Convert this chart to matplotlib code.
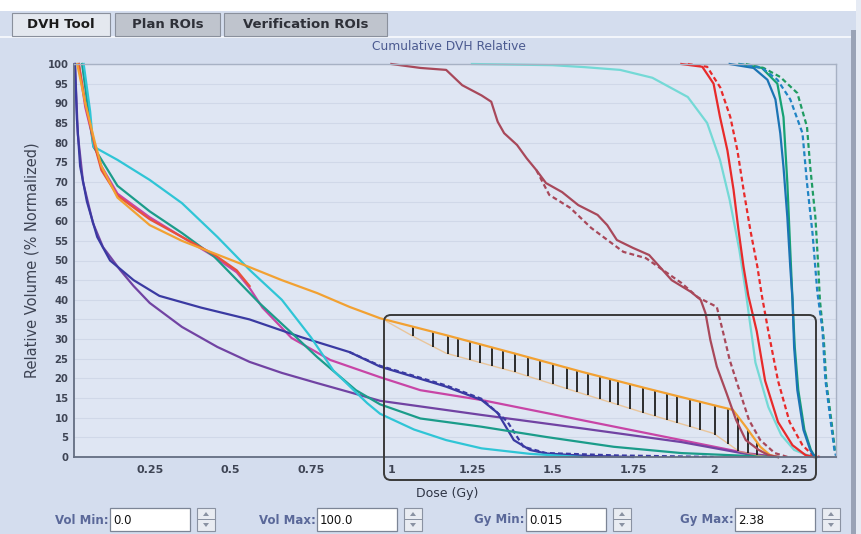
import numpy as np
import matplotlib
matplotlib.use("Agg")
import matplotlib.pyplot as plt
from matplotlib.patches import Rectangle, FancyBboxPatch, Polygon
from matplotlib.transforms import Affine2D

# ---- DVH curves (dose in Gy, volume in %) ----
orange_gy = [0.025, 0.05, 0.08, 0.10, 0.15, 0.25, 0.35, 0.46, 0.56, 0.66, 0.77, 0.87, 0.965,
             1.17, 1.38, 1.59, 1.79, 2.0, 2.06, 2.10, 2.145, 2.175, 2.2]
orange_vol = [100, 90, 80, 74, 66, 59, 55, 51.5, 48.3, 45, 41.7, 38.2, 35.3,
              31, 26.4, 21.7, 17.5, 13.2, 12, 7.7, 2.6, 0.5, 0]
# lower edge of the hatched band under the orange curve
band_gy = [0.985, 1.07, 1.17, 1.38, 1.59, 1.79, 2.0, 2.08, 2.135, 2.17]
band_vol = [34.5, 30.6, 26.4, 21.7, 16.2, 11.1, 6.0, 1.4, 0.5, 0]
hatch_gy = [1.068, 1.130, 1.176, 1.208, 1.245, 1.276, 1.313, 1.347, 1.385, 1.425,
            1.462, 1.503, 1.546, 1.577, 1.611, 1.648, 1.680, 1.704, 1.742, 1.782,
            1.819, 1.857, 1.888, 1.928, 1.959, 2.006, 2.046, 2.077, 2.108, 2.136]

red_lo_gy = [0.03, 0.05, 0.08, 0.10, 0.15, 0.25, 0.35, 0.45, 0.52, 0.56]
red_lo_vol = [100, 90, 79, 73, 66.5, 60.5, 56, 51.5, 47.5, 43.5]

magenta_gy = [0.03, 0.05, 0.08, 0.10, 0.15, 0.25, 0.35, 0.45, 0.52, 0.56, 0.60, 0.69, 0.81,
              0.965, 1.09, 1.28, 1.59, 1.9, 2.1, 2.2]
magenta_vol = [100, 89, 79, 74, 67, 61, 56, 51, 47, 43, 38, 30.3, 24.7,
               20.3, 17, 14.5, 9.4, 4.3, 1, 0]

teal_gy = [0.04, 0.06, 0.075, 0.15, 0.25, 0.35, 0.45, 0.59, 0.69, 0.77, 0.89, 0.965,
           1.09, 1.28, 1.48, 1.69, 1.9, 2.1, 2.2]
teal_vol = [100, 88, 79, 69, 62.5, 57, 51, 39.2, 31.6, 25.4, 17, 13.4,
            9.8, 7.7, 5.1, 2.6, 1, 0.3, 0]

cyan_gy = [0.045, 0.065, 0.075, 0.15, 0.25, 0.35, 0.46, 0.56, 0.66, 0.75, 0.82, 0.925,
           0.965, 1.07, 1.17, 1.28, 1.43, 1.59]
cyan_vol = [100, 88, 79, 75.6, 70.5, 64.6, 56, 47.6, 40, 30.5, 22, 13.7,
            11, 7, 4.3, 2.2, 0.8, 0]

navy_gy = [0.018, 0.024, 0.034, 0.055, 0.087, 0.127, 0.2, 0.28, 0.41, 0.56, 0.72, 0.87,
           0.965, 1.17, 1.28, 1.33, 1.38, 1.43, 1.48, 1.6, 1.75]
navy_vol = [100, 86, 74, 65, 56, 50, 45, 41, 38, 35, 30.5, 26.7,
            23, 17.9, 14.5, 11.2, 4.3, 1.8, 0.9, 0.3, 0]
navy_dash_gy = [0.87, 0.965, 1.17, 1.28, 1.36, 1.41, 1.48, 1.7, 2.0]
navy_dash_vol = [26.7, 23.2, 18.2, 14.8, 9, 2.6, 1, 0.4, 0]

purple_gy = [0.018, 0.027, 0.043, 0.074, 0.105, 0.158, 0.2, 0.25, 0.35, 0.46, 0.56, 0.66,
             0.77, 0.87, 0.965, 1.28, 1.59, 1.9, 2.1, 2.2]
purple_vol = [100, 82, 70, 59.5, 53.4, 47.6, 43.5, 39.2, 33.1, 28, 24.2, 21.4,
              18.8, 16.5, 14.3, 10.7, 7.3, 3.8, 0.8, 0]

brown_gy = [1.0, 1.09, 1.17, 1.22, 1.28, 1.31, 1.33, 1.35, 1.39, 1.42, 1.45, 1.48, 1.53,
            1.58, 1.64, 1.67, 1.70, 1.75, 1.80, 1.87, 1.93, 1.96, 1.975, 1.99, 2.01,
            2.04, 2.07, 2.10, 2.14, 2.17, 2.2]
brown_vol = [100, 99, 98.5, 94.6, 92, 90.4, 85.3, 82.4, 79.4, 76, 73, 69.7, 67.4,
             64.1, 61.6, 59, 55.2, 53.2, 51.4, 45, 42, 40, 36.6, 29.8, 23,
             16.3, 9.4, 4.3, 1.8, 0.5, 0]
brown_dash_gy = [1.45, 1.49, 1.555, 1.62, 1.72, 1.79, 1.9, 1.95, 2.01, 2.03, 2.05, 2.08,
                 2.11, 2.145, 2.19, 2.23]
brown_dash_vol = [73, 66.7, 63.4, 58.3, 52.2, 50.6, 44.3, 40.7, 38.2, 31.6, 24.7, 17,
                  9.4, 4.3, 1, 0]

pale_gy = [1.25, 1.5, 1.6, 1.71, 1.81, 1.92, 1.98, 2.02, 2.05, 2.08, 2.10, 2.13, 2.17,
           2.21, 2.25, 2.29, 2.32]
pale_vol = [100, 99.7, 99.2, 98.5, 96.5, 91.6, 85, 75.6, 65.4, 52.7, 42, 24, 12.7,
            5.6, 1.8, 0.5, 0]

red_gy = [1.9, 1.965, 2.0, 2.02, 2.043, 2.062, 2.077, 2.093, 2.108, 2.134, 2.16, 2.2,
          2.245, 2.285, 2.31]
red_vol = [100, 99.3, 95, 86.5, 78, 68, 58, 48.4, 41, 32, 19.4, 8.9, 3, 0.5, 0]
red_dash_gy = [1.92, 1.98, 2.021, 2.052, 2.074, 2.093, 2.114, 2.136, 2.15, 2.17, 2.2,
               2.236, 2.276, 2.307, 2.33]
red_dash_vol = [100, 99.3, 94, 86.5, 78, 68, 57.8, 48.4, 41, 32, 19.4, 8.9, 3, 0.5, 0]

blue_gy = [2.05, 2.124, 2.167, 2.192, 2.207, 2.217, 2.229, 2.238, 2.245, 2.25, 2.26,
           2.279, 2.3, 2.31, 2.32]
blue_vol = [100, 99, 96, 91, 82.4, 73.8, 61, 48.4, 40, 28, 17, 6.9, 1.8, 0.5, 0]
green_gy = [2.08, 2.15, 2.198, 2.217, 2.229, 2.238, 2.245, 2.252, 2.263, 2.282, 2.302, 2.315]
green_vol = [100, 99, 95, 86.5, 69.7, 52.7, 40, 28, 17, 6.9, 1.8, 0]
blue_dash_gy = [2.08, 2.15, 2.198, 2.238, 2.276, 2.29, 2.307, 2.322, 2.338, 2.347, 2.363,
                2.375, 2.38]
blue_dash_vol = [100, 99, 96, 91, 82.4, 69.7, 57, 42, 32.3, 19.6, 9.4, 1.8, 0.3]
green_dash_gy = [2.1, 2.155, 2.207, 2.26, 2.29, 2.3, 2.316, 2.325, 2.33, 2.342, 2.35,
                 2.366, 2.378]
green_dash_vol = [100, 99, 96.7, 92.6, 84, 73.8, 61, 48.4, 40, 30, 19, 9, 1]

x_ticks = [0.25, 0.5, 0.75, 1, 1.25, 1.5, 1.75, 2, 2.25]
x_ticklabels = ['0.25', '0.5', '0.75', '1', '1.25', '1.5', '1.75', '2', '2.25']
y_ticks = list(range(0, 101, 5))
tab_names = ['DVH Tool', 'Plan ROIs', 'Verification ROIs']
control_labels = ['Vol Min:', 'Vol Max:', 'Gy Min:', 'Gy Max:']
control_values = ['0.0', '100.0', '0.015', '2.38']

# ---- figure ----
W, H = 862, 534
fig = plt.figure(figsize=(W / 100, H / 100), dpi=100)
fig.patch.set_facecolor('#d4ddee')
# pixel coords, origin at top-left
px = Affine2D().scale(1 / W, -1 / H).translate(0, 1) + fig.transFigure

fig.patches.append(Rectangle((0, 0), W, 11, transform=px, fc='white', ec='none'))
fig.patches.append(Rectangle((0, 36), 851, 1.5, transform=px, fc='#f2f5fb', ec='none'))
fig.patches.append(Rectangle((851, 30), 5, H, transform=px, fc='#9aa3b6', ec='none'))
fig.patches.append(Rectangle((856, 0), 6, H, transform=px, fc='#e6ebf4', ec='none'))

tab_x = [(12, 110), (115, 220), (224, 387)]
for i, (name, (x0, x1)) in enumerate(zip(tab_names, tab_x)):
    fc = '#e4e8ef' if i == 0 else '#bfc4cd'
    fig.patches.append(Rectangle((x0, 13), x1 - x0, 23, transform=px, fc=fc,
                                 ec='#8a909c', lw=0.8))
    fig.text((x0 + x1) / 2, 25, name, transform=px, ha='center', va='center',
             fontsize=9.5, fontweight='bold', color='#1a1a1a' if i == 0 else '#2e3038')

fig.text(449, 47, 'Cumulative DVH Relative', transform=px, ha='center', va='center',
         fontsize=8.8, color='#4b5a90')

ax = fig.add_axes([74 / W, (H - 457) / H, 762 / W, 393 / H])
ax.set_facecolor('#dfe6f3')
ax.set_xlim(0.015, 2.38)
ax.set_ylim(0, 100)

ax.set_yticks(y_ticks)
ax.set_xticks(x_ticks)
ax.set_xticklabels(x_ticklabels)
ax.tick_params(axis='y', length=0, labelsize=7.2, labelcolor='#3e4454', pad=4)
ax.tick_params(axis='x', length=0, labelsize=8, labelcolor='#3e4454', pad=6)
for lab in ax.get_xticklabels() + ax.get_yticklabels():
    lab.set_fontweight('bold')
ax.grid(axis='y', color='#d0d8e8', lw=0.8)
ax.set_axisbelow(True)
for side in ['left', 'bottom']:
    ax.spines[side].set_color('#646e82')
    ax.spines[side].set_linewidth(1.3)
for side in ['top', 'right']:
    ax.spines[side].set_color('#a7b1c4')
    ax.spines[side].set_linewidth(1.0)

ax.set_ylabel('Relative Volume (% Normalized)', fontsize=10.5, color='#3e4454', labelpad=6)
fig.text(447, 493, 'Dose (Gy)', transform=px, ha='center', va='center',
         fontsize=9, color='#2e3444')

lw = 1.6
dash = (2.2, 1.4)
kw = dict(lw=lw, clip_on=False, solid_joinstyle='round')

# left group
ax.plot(magenta_gy, magenta_vol, color='#c845a6', **kw)
ax.plot(purple_gy, purple_vol, color='#7143a3', **kw)
ax.plot(navy_gy, navy_vol, color='#3a3aa2', **kw)
ax.plot(navy_dash_gy, navy_dash_vol, color='#3a3aa2', dashes=dash, lw=lw)
ax.plot(teal_gy, teal_vol, color='#1b9c8a', **kw)
ax.plot(cyan_gy, cyan_vol, color='#2fc5d6', **kw)
ax.plot(red_lo_gy, red_lo_vol, color='#e8503c', **kw)

# hatched band below the orange curve
ax.plot(band_gy, band_vol, color='#f0b060', lw=1.0, alpha=0.6)
ax.vlines(hatch_gy, np.interp(hatch_gy, band_gy, band_vol),
          np.interp(hatch_gy, orange_gy, orange_vol), color='#1e1e1e', lw=1.3)
ax.plot(orange_gy, orange_vol, color='#f2a132', **kw)

# right group
ax.plot(brown_gy, brown_vol, color='#a8485a', **kw)
ax.plot(brown_dash_gy, brown_dash_vol, color='#a8485a', dashes=dash, lw=lw)
ax.plot(pale_gy, pale_vol, color='#74d9d6', **kw)
ax.plot(red_gy, red_vol, color='#e82a2a', **kw)
ax.plot(red_dash_gy, red_dash_vol, color='#e82a2a', dashes=dash, lw=lw, clip_on=False)
ax.plot(green_gy, green_vol, color='#16a274', **kw)
ax.plot(blue_gy, blue_vol, color='#1b74b4', **kw)
ax.plot(green_dash_gy, green_dash_vol, color='#1f9c62', dashes=dash, lw=lw, clip_on=False)
ax.plot(blue_dash_gy, blue_dash_vol, color='#2084c4', dashes=dash, lw=lw, clip_on=False)

# highlight box
fig.patches.append(FancyBboxPatch((384, 315), 432, 165, transform=px,
                                  boxstyle='round,pad=0,rounding_size=7',
                                  fill=False, ec='#3a3a3a', lw=1.4, zorder=5))

# bottom controls
label_end = [110, 317, 526, 735]
for lab, val, x in zip(control_labels, control_values, label_end):
    fig.text(x - 1, 520, lab, transform=px, ha='right', va='center', fontsize=8.5,
             color='#5a6899', fontweight='bold')
    fig.patches.append(Rectangle((x, 508), 80, 23, transform=px, fc='white',
                                 ec='#7c8596', lw=0.9))
    fig.text(x + 3, 520, val, transform=px, ha='left', va='center', fontsize=8.5,
             color='#111111')
    sx = x + 87
    fig.patches.append(Rectangle((sx, 508), 18, 23, transform=px, fc='#e9ecf2',
                                 ec='#8a92a2', lw=0.8))
    fig.patches.append(Rectangle((sx, 519), 18, 0.6, transform=px, fc='#8a92a2', ec='none'))
    fig.patches.append(Polygon([(sx + 6, 516), (sx + 12, 516), (sx + 9, 512)],
                               transform=px, fc='#8a92a2', ec='none'))
    fig.patches.append(Polygon([(sx + 6, 523), (sx + 12, 523), (sx + 9, 527)],
                               transform=px, fc='#8a92a2', ec='none'))

fig.savefig('out.png', dpi=100, facecolor=fig.get_facecolor())
